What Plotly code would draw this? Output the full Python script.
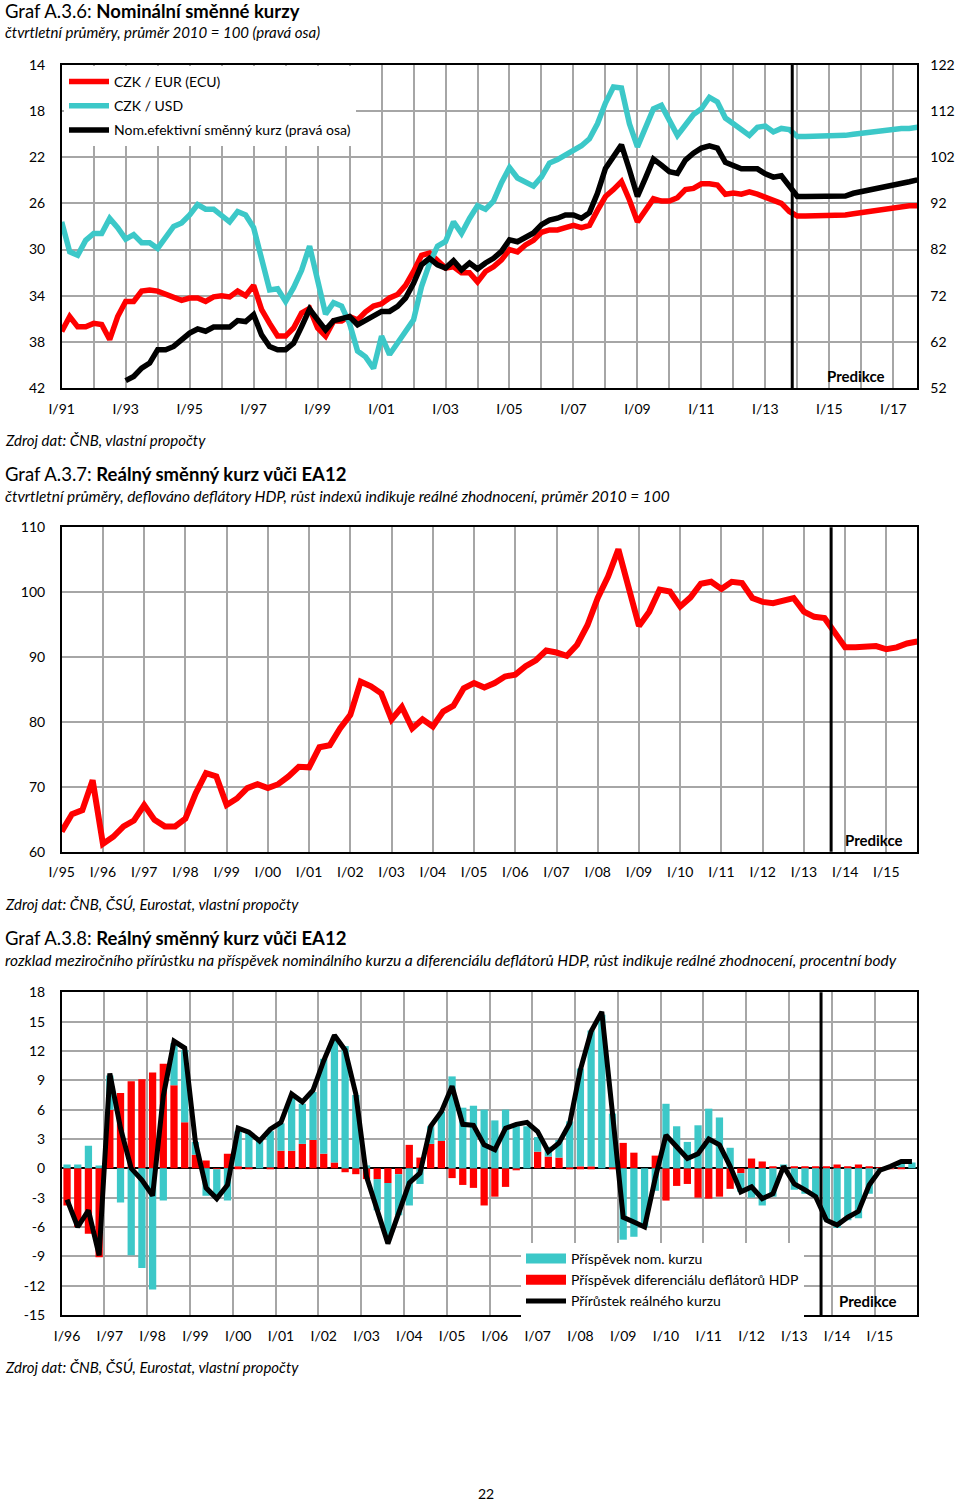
import plotly.graph_objects as go

W, H = 960, 1503
def px(x): return x / W
def py(y): return 1 - y / H

FONT = "Lato"
RED = "#ff0000"
CYAN = "#3cc8c8"
GRID = "#a6a6a6"

# ---------------- Chart A.3.6 data (1991Q1 - 2017Q4) ----------------
years1 = list(range(1991, 2018))
czk_eur = [37.1, 35.8, 36.7, 36.7, 36.4, 36.5, 37.8, 35.8, 34.5, 34.5, 33.6, 33.5,
           33.6, 33.9, 34.2, 34.4, 34.2, 34.2, 34.5, 34.1, 34.0, 34.1, 33.6, 34.0,
           33.1, 35.2, 36.4, 37.5, 37.5, 36.8, 35.5, 35.1, 36.8, 37.5, 36.2, 36.2,
           35.8, 36.1, 35.4, 34.9, 34.7, 34.2, 33.9, 33.1, 31.9, 30.5, 30.3, 31.0,
           31.6, 31.5, 32.0, 32.0, 32.8, 31.9, 31.5, 30.9, 30.0, 30.2, 29.6, 29.2,
           28.5, 28.3, 28.3, 28.1, 27.9, 28.1, 27.9, 26.6, 25.4, 24.8, 24.1, 25.7,
           27.6, 26.6, 25.6, 25.8, 25.8, 25.5, 24.8, 24.7, 24.3, 24.3, 24.4, 25.2,
           25.1, 25.2, 25.0, 25.2, 25.5, 25.7, 26.0, 26.7, 27.1, 27.1, 27.1, 27.1,
           27.1, 27.1, 27.0, 26.9, 26.8, 26.6, 26.6, 26.5, 26.4, 26.3, 26.2, 26.2]
czk_usd = [27.6, 30.2, 30.5, 29.2, 28.6, 28.6, 27.3, 28.1, 29.1, 28.7, 29.4, 29.4,
           29.9, 29.0, 28.0, 27.7, 27.0, 26.1, 26.5, 26.5, 27.0, 27.6, 26.7, 27.0,
           28.1, 30.9, 33.5, 33.4, 34.5, 33.3, 31.8, 29.7, 32.7, 35.6, 34.6, 34.9,
           36.4, 38.8, 39.3, 40.3, 37.5, 39.1, 38.1, 37.1, 36.1, 33.2, 31.2, 29.7,
           29.3, 27.6, 28.6, 27.3, 26.2, 26.5, 25.8, 24.2, 22.9, 23.8, 24.2, 24.5,
           23.7, 22.5, 22.2, 21.8, 21.3, 21.0, 20.4, 19.1, 17.3, 15.9, 16.0, 19.1,
           21.1, 19.5, 17.8, 17.5, 18.9, 20.1, 19.2, 18.3, 17.8, 16.8, 17.2, 18.6,
           19.1, 19.6, 20.1, 19.4, 19.3, 19.8, 19.5, 19.6, 20.2, 20.2, 20.2, 20.2,
           20.2, 20.2, 20.1, 20.0, 19.9, 19.8, 19.7, 19.6, 19.6, 19.5, 19.5, 19.4]
neer = [None] * 8 + [
           53.6, 54.5, 56.3, 57.4, 60.3, 60.3, 61.0, 62.5, 63.9, 64.8, 64.3, 65.2,
           65.2, 65.2, 66.6, 66.4, 67.9, 63.5, 61.0, 60.3, 60.3, 61.7, 65.3, 69.1,
           66.8, 64.6, 66.6, 67.1, 67.5, 65.7, 66.6, 67.5, 68.6, 68.6, 69.7, 71.5,
           74.7, 78.7, 80.1, 78.7, 78.0, 79.6, 77.6, 79.1, 77.8, 79.1, 80.1, 81.6,
           84.1, 83.7, 84.5, 85.6, 87.4, 88.4, 88.8, 89.5, 89.5, 88.8, 90.0, 94.2,
           99.6, 102.2, 104.7, 99.3, 93.5, 97.5, 101.6, 100.3, 98.9, 98.5, 101.4, 102.9,
           104.0, 104.5, 104.0, 100.9, 100.3, 99.5, 99.5, 99.5, 98.4, 97.7, 98.0, 95.7,
           93.5, 93.5, 93.5, 93.5, 93.5, 93.5, 93.6, 94.2, 94.6, 94.9, 95.3, 95.5,
           96.0, 96.5, 96.7, 97.1]
left1_ticks = [14, 18, 22, 26, 30, 34, 38, 42]
right1_ticks = [52, 62, 72, 82, 92, 102, 112, 122]

# ---------------- Chart A.3.7 data (1995Q1 - 2015Q4) ----------------
years2 = list(range(1995, 2016))
reer = [63.1, 65.8, 66.4, 71.0, 61.2, 62.3, 63.9, 64.8, 67.2, 64.9, 63.9, 63.9,
        65.1, 69.0, 72.1, 71.6, 67.2, 68.2, 69.8, 70.4, 69.8, 70.4, 71.6, 73.1,
        73.0, 76.1, 76.4, 79.0, 81.1, 86.2, 85.5, 84.4, 80.4, 82.3, 79.0, 80.4,
        79.3, 81.6, 82.5, 85.2, 86.0, 85.3, 86.0, 87.0, 87.3, 88.6, 89.5, 91.0,
        90.7, 90.2, 91.9, 94.9, 99.1, 102.4, 106.6, 100.9, 94.8, 97.0, 100.4, 100.1,
        97.8, 99.2, 101.3, 101.6, 100.5, 101.6, 101.4, 99.1, 98.5, 98.3, 98.8, 99.1,
        97.0, 96.2, 96.0, 93.9, 91.5, 91.5, 91.7, 91.7, 91.2, 91.5, 92.1, 92.4]
y2_ticks = [60, 70, 80, 90, 100, 110]

# ---------------- Chart A.3.8 data (1996Q1 - 2015Q4) ----------------
years3 = list(range(1996, 2016))
contrib_nom = [0.4, 0.4, 2.3, 0.3, 3.5, -3.5, -8.9, -10.2, -12.4, -3.3, 4.3, 7.4,
               1.3, -2.8, -3.0, -3.3, 3.6, 3.5, 2.8, 3.7, 2.8, 5.4, 4.1, 4.9,
               9.7, 12.8, 12.5, 7.5, 0.3, -3.2, -5.8, -4.2, -3.8, -1.6, 1.8, 3.0,
               9.4, 6.2, 6.4, 6.0, 4.9, 6.0, 4.3, 4.3, 1.5, 1.0, 1.8, 4.7,
               10.0, 13.9, 15.7, 5.5, -7.3, -7.0, -6.0, -2.3, 6.6, 4.3, 2.7, 4.4,
               6.1, 5.2, 2.1, -1.9, -3.0, -3.8, -2.9, 0.3, -2.2, -2.6, -2.9, -5.3,
               -6.1, -5.3, -5.1, -2.6, -0.2, 0.1, 0.4, 0.6]
contrib_defl = [-3.8, -6.0, -6.7, -9.1, 6.0, 7.7, 8.9, 9.1, 9.8, 10.7, 8.5, 4.7,
                1.4, 0.8, -0.1, 1.5, 0.2, 0.1, 0.0, 0.1, 1.8, 1.8, 2.5, 2.9,
                1.5, 0.6, -0.4, -0.6, -1.1, -1.1, -1.5, -0.6, 2.4, 1.1, 2.5, 2.8,
                -1.0, -1.7, -2.0, -3.8, -2.9, -1.9, -0.2, 0.0, 1.7, 1.2, 1.1, 0.1,
                0.2, 0.2, 0.0, 0.1, 2.6, 1.6, 0.0, 1.3, -3.3, -1.8, -1.6, -3.0,
                -3.1, -2.9, -2.1, -0.5, 1.0, 0.7, 0.2, 0.1, 0.2, 0.2, 0.2, 0.2,
                0.4, 0.2, 0.4, 0.2, 0.1, 0.1, 0.1, 0.0]
real_growth = [-3.2, -6.0, -4.3, -8.9, 9.7, 4.1, 0.0, -1.2, -2.8, 7.4, 13.0, 12.3,
               2.7, -2.0, -3.1, -1.7, 4.1, 3.7, 2.8, 4.0, 4.7, 7.6, 6.8, 8.0,
               11.0, 13.6, 12.1, 7.6, -0.85, -4.3, -7.7, -4.6, -1.5, -0.5, 4.3, 5.8,
               8.4, 4.5, 4.4, 2.4, 1.9, 4.1, 4.5, 4.7, 3.75, 1.7, 2.6, 4.6,
               10.1, 14.0, 16.0, 5.6, -5.0, -5.5, -6.0, -1.0, 3.4, 2.2, 1.0, 1.5,
               3.0, 2.4, 0.2, -2.4, -1.9, -3.1, -2.6, 0.2, -1.6, -2.2, -2.9, -5.3,
               -5.8, -5.0, -4.4, -1.7, -0.2, 0.2, 0.7, 0.7]
y3_ticks = [-15, -12, -9, -6, -3, 0, 3, 6, 9, 12, 15, 18]

pred1, pred2, pred3 = 2013.84, 2013.66, 2013.75

def qx(start, n, offset=0.0):
    return [start + i / 4 + offset for i in range(n)]

x1 = qx(1991, len(czk_eur))
x2 = qx(1995, len(reer))
x3 = qx(1996, len(real_growth), 0.125)

fig = go.Figure()

# Chart 1
fig.add_trace(go.Scatter(x=x1, y=czk_eur, mode="lines", name="CZK / EUR (ECU)",
                         line=dict(color=RED, width=5.5), xaxis="x", yaxis="y",
                         legend="legend", legendgroup="a"))
fig.add_trace(go.Scatter(x=x1, y=czk_usd, mode="lines", name="CZK / USD",
                         line=dict(color=CYAN, width=5.5), xaxis="x", yaxis="y",
                         legend="legend", legendgroup="b"))
fig.add_trace(go.Scatter(x=x1, y=neer, mode="lines", name="Nom.efektivní směnný kurz (pravá osa)",
                         line=dict(color="black", width=5.5), xaxis="x", yaxis="y2",
                         legend="legend", legendgroup="c"))

# Chart 2
fig.add_trace(go.Scatter(x=x2, y=reer, mode="lines", showlegend=False,
                         line=dict(color=RED, width=6), xaxis="x2", yaxis="y3"))

# Chart 3
fig.add_trace(go.Bar(x=x3, y=contrib_defl, marker=dict(color=RED, line=dict(width=0)),
                     showlegend=False, xaxis="x3", yaxis="y4"))
fig.add_trace(go.Bar(x=x3, y=contrib_nom, marker=dict(color=CYAN, line=dict(width=0)),
                     showlegend=False, xaxis="x3", yaxis="y4"))
fig.add_trace(go.Scatter(x=x3, y=real_growth, mode="lines", showlegend=False,
                         line=dict(color="black", width=5), xaxis="x3", yaxis="y4"))
# legend entries for chart 3
for name, col, w, g in [("Příspěvek nom. kurzu", CYAN, 10, "d"),
                        ("Příspěvek diferenciálu deflátorů HDP", RED, 10, "e"),
                        ("Přírůstek reálného kurzu", "black", 5, "f")]:
    fig.add_trace(go.Scatter(x=[None], y=[None], mode="lines", name=name,
                             line=dict(color=col, width=w), xaxis="x3", yaxis="y4",
                             legend="legend2", legendgroup=g))

XD = [px(61.7), px(917.3)]
tickfont = dict(family=FONT, size=14, color="black")
common_x = dict(showline=True, mirror=True, linecolor="black", linewidth=1.5,
                gridcolor=GRID, gridwidth=1.5, ticks="", tickfont=tickfont,
                zeroline=False, tickmode="array", domain=XD, automargin=False,
                ticklabelstandoff=7)
common_y = dict(showline=True, mirror=True, linecolor="black", linewidth=1.5,
                gridcolor=GRID, gridwidth=1.5, ticks="", tickfont=tickfont,
                tickmode="array", ticklabelstandoff=12, automargin=False)

def hy(vals):
    return [str(v).replace("\u2212", "-") for v in vals]

fig.update_layout(
    template="none",
    width=W, height=H, margin=dict(l=0, r=0, t=0, b=0, pad=0, autoexpand=False),
    paper_bgcolor="white", plot_bgcolor="white",
    barmode="relative", bargap=0.32,
    font=dict(family=FONT, color="black"),
    xaxis=dict(common_x, anchor="y", range=[1991, 2017.75], showgrid=True,
               tickvals=years1,
               ticktext=[("I/%02d" % (y % 100)) if (y - 1991) % 2 == 0 else "" for y in years1]),
    yaxis=dict(common_y, domain=[py(388), py(65)], range=[42, 14], showgrid=True,
               tickvals=left1_ticks, ticktext=hy(left1_ticks), zeroline=False),
    yaxis2=dict(overlaying="y", side="right", anchor="x", range=[52, 122], showgrid=False,
                tickmode="array", tickvals=right1_ticks, ticktext=hy(right1_ticks),
                ticks="", tickfont=tickfont, automargin=False,
                ticklabelstandoff=12, zeroline=False, showline=False),
    xaxis2=dict(common_x, anchor="y3", range=[1995, 2015.75], showgrid=True,
                tickvals=years2, ticktext=["I/%02d" % (y % 100) for y in years2]),
    yaxis3=dict(common_y, anchor="x2", domain=[py(851.7), py(527.3)], range=[60, 110],
                showgrid=True, tickvals=y2_ticks, ticktext=hy(y2_ticks), zeroline=False),
    xaxis3=dict(common_x, anchor="y4", range=[1996, 2016], showgrid=False,
                tickvals=[y + 0.125 for y in years3],
                ticktext=["I/%02d" % (y % 100) for y in years3],
                minor=dict(tickmode="array", tickvals=years3 + [2016], showgrid=True,
                           gridcolor=GRID, gridwidth=1.5, ticks="")),
    yaxis4=dict(common_y, anchor="x3", domain=[py(1315), py(992.3)], range=[-15, 18],
                showgrid=True, tickvals=y3_ticks, ticktext=hy(y3_ticks), zeroline=True,
                zerolinecolor="black", zerolinewidth=1.5),
    legend=dict(x=px(64), y=py(66), xanchor="left", yanchor="top", bgcolor="white",
                font=dict(family=FONT, size=14, color="black"), traceorder="grouped",
                tracegroupgap=3, itemwidth=40, borderwidth=0),
    legend2=dict(x=px(521), y=py(1243), xanchor="left", yanchor="top", bgcolor="white",
                 font=dict(family=FONT, size=14, color="black"), traceorder="grouped",
                 tracegroupgap=0, itemwidth=40, borderwidth=0),
)

shapes = []
for xr, yr, xv in [("x", "y domain", pred1), ("x2", "y3 domain", pred2), ("x3", "y4 domain", pred3)]:
    shapes.append(dict(type="line", xref=xr, yref=yr, x0=xv, x1=xv, y0=0, y1=1,
                       line=dict(color="black", width=3)))
fig.update_layout(shapes=shapes)

def ann(text, x, y, size=14, xanchor="left"):
    fig.add_annotation(text=text, x=px(x), y=py(y), xref="paper", yref="paper",
                       xanchor=xanchor, yanchor="middle", showarrow=False,
                       font=dict(family=FONT, size=size, color="black"))

ann("Graf A.3.6: <b>Nominální směnné kurzy</b>", 3, 11, 18.5)
ann("<i>čtvrtletní průměry, průměr 2010 = 100 (pravá osa)</i>", 3, 32, 15)
ann("<i>Zdroj dat: ČNB, vlastní propočty</i>", 3, 440, 15)
ann("Graf A.3.7: <b>Reálný směnný kurz vůči EA12</b>", 3, 474, 18.5)
ann("<i>čtvrtletní průměry, deflováno deflátory HDP, růst indexů indikuje reálné zhodnocení, průměr 2010 = 100</i>", 3, 496, 15.4)
ann("<i>Zdroj dat: ČNB, ČSÚ, Eurostat, vlastní propočty</i>", 3, 904, 15)
ann("Graf A.3.8: <b>Reálný směnný kurz vůči EA12</b>", 3, 938, 18.5)
ann("<i>rozklad meziročního přírůstku na příspěvek nominálního kurzu a diferenciálu deflátorů HDP, růst indikuje reálné zhodnocení, procentní body</i>", 3, 960, 15.5)
ann("<i>Zdroj dat: ČNB, ČSÚ, Eurostat, vlastní propočty</i>", 3, 1367, 15)
ann("22", 486, 1493, 14, "center")
ann("<b>Predikce</b>", 856, 376, 15, "center")
ann("<b>Predikce</b>", 874, 840, 15, "center")
ann("<b>Predikce</b>", 868, 1301, 15, "center")

fig.write_html("out.html", config={"displayModeBar": False},
               post_script="document.body.style.margin='0px';document.body.style.overflow='hidden';")
